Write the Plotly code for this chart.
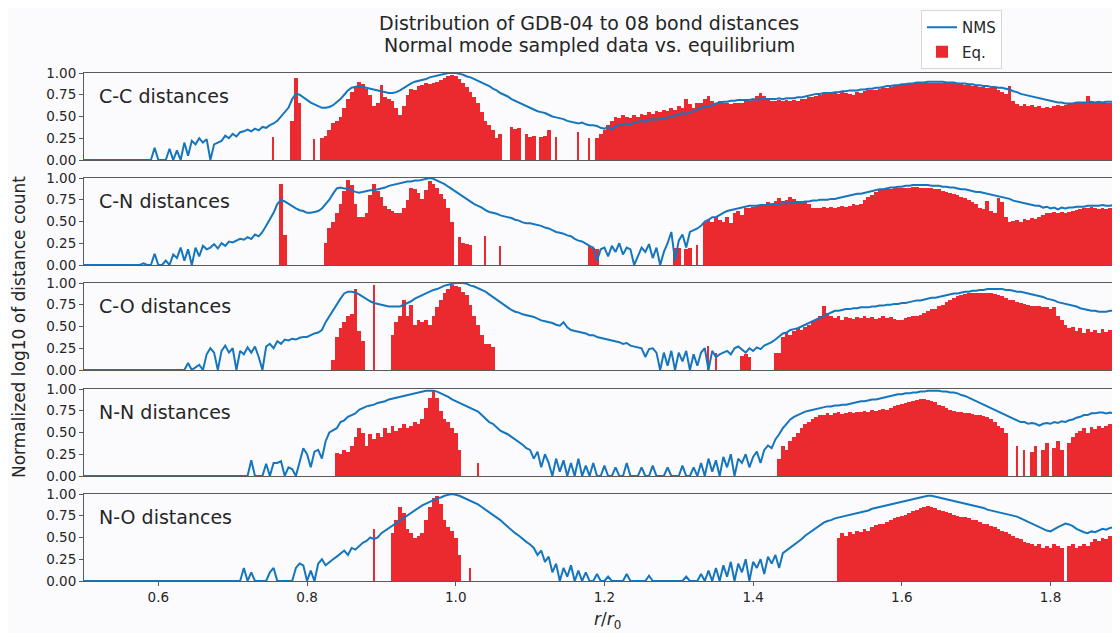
import numpy as np
import plotly.graph_objects as go

# bin centres of r/r0 (step 0.005)
r_bins = np.round(0.5 + 0.005 * np.arange(280), 3)

panel_names = ["C-C distances", "C-N distances", "C-O distances", "N-N distances", "N-O distances"]
x_ticks = [0.6, 0.8, 1.0, 1.2, 1.4, 1.6, 1.8]
y_ticks = [0.0, 0.25, 0.5, 0.75, 1.0]

# values in percent of the normalised log10 count, one row per 0.1 of r/r0 (0.5 .. 1.8)
cc_nms = [
    0,0,0,0,0,0,0,0,0,0,0,0,0,0,0,0,0,0,0,14,
    0,0,0,13,0,11,0,20,5,22,18,25,20,24,0,18,20,22,28,25,
    30,27,32,33,35,33,36,34,38,37,40,42,45,50,55,60,70,76,75,72,
    68,66,64,62,60,60,61,63,66,70,75,80,83,84,85,84,83,82,81,80,
    79,78,77,77,78,80,83,86,88,90,91,92,93,95,96,97,98,99,100,100,
    100,99,98,96,95,93,91,89,87,85,82,80,77,75,73,70,68,66,64,62,
    60,58,56,55,54,52,50,49,48,47,45,44,43,42,43,41,40,40,39,37,
    36,38,35,39,40,41,42,41,43,44,45,44,46,47,46,48,47,49,50,51,
    52,54,53,55,56,58,60,61,62,63,65,66,67,67,68,68,69,69,69,69,
    70,69,70,70,70,70,70,71,70,71,71,71,72,72,73,74,75,76,76,77,
    77,77,78,78,79,79,80,80,80,81,81,82,82,83,83,84,85,85,86,86,
    87,87,88,88,89,89,89,90,90,90,90,90,89,89,89,88,88,88,87,87,
    86,86,85,85,84,84,83,83,82,81,79,78,76,75,74,73,72,71,70,69,
    68,67,66,66,65,65,65,66,66,66,66,67,66,67,66,67,67,67,67,67,
]
cc_eq = [
    0,0,0,0,0,0,0,0,0,0,0,0,0,0,0,0,0,0,0,0,
    0,0,0,0,0,0,0,0,0,0,0,0,0,0,0,0,0,0,0,0,
    0,0,0,0,0,0,0,0,0,0,0,26,0,0,0,0,45,94,65,0,
    0,0,24,0,25,28,35,42,45,50,60,70,78,85,90,87,82,75,62,65,
    86,72,70,68,60,52,62,75,82,80,85,86,88,87,89,90,92,94,96,98,
    97,93,88,84,78,72,65,55,45,40,35,25,30,0,0,38,36,37,0,30,
    27,28,0,27,28,35,0,26,0,0,0,0,0,32,0,0,25,0,25,30,
    35,40,45,50,48,52,50,48,52,50,53,52,55,53,56,55,58,56,60,58,
    62,60,70,64,60,66,65,70,73,68,66,68,65,66,64,66,65,66,70,68,
    70,74,77,74,69,68,68,69,68,69,68,69,68,70,70,72,72,74,75,76,
    76,78,77,76,78,77,76,75,78,77,79,80,80,81,82,83,83,84,85,85,
    86,86,87,87,88,88,89,89,89,89,89,89,88,88,88,87,87,86,86,85,
    85,84,84,83,83,83,80,78,76,85,68,64,62,64,62,63,61,62,60,61,
    60,62,63,62,63,64,64,65,65,66,73,66,66,65,66,65,66,65,65,65,
]
cn_nms = [
    0,0,0,0,0,0,0,0,0,0,0,0,0,0,0,0,2,0,0,13,
    0,0,5,0,12,8,20,5,18,0,20,10,22,18,20,24,19,25,22,27,
    26,28,30,29,32,30,35,33,38,45,52,60,70,75,73,70,68,65,63,62,
    60,60,61,62,65,70,75,82,88,89,88,88,86,84,83,84,85,86,86,87,
    88,89,91,92,93,94,95,96,96,97,97,98,99,100,99,97,95,93,90,87,
    84,81,78,75,72,70,68,66,63,61,60,59,57,56,55,54,52,51,49,48,
    48,47,46,45,43,42,40,38,37,36,34,33,30,28,27,24,22,20,5,18,
    20,10,22,15,25,12,20,18,0,10,20,15,24,8,20,0,15,25,38,5,
    28,35,20,38,40,42,45,50,52,55,55,58,60,62,63,64,65,66,67,68,
    68,68,69,69,69,70,70,70,71,71,71,72,72,72,73,73,74,74,75,75,
    75,76,76,77,78,79,80,81,82,82,83,84,85,86,87,87,88,89,89,90,
    90,91,91,92,92,92,92,92,91,91,91,90,90,89,89,88,87,87,86,85,
    84,84,83,82,81,80,79,78,77,76,74,73,72,71,70,69,68,68,66,67,
    65,66,64,66,65,66,66,67,67,67,68,68,68,68,69,68,68,69,68,68,
]
cn_eq = [
    0,0,0,0,0,0,0,0,0,0,0,0,0,0,0,0,0,0,0,0,
    0,0,0,0,0,0,0,0,0,0,0,0,0,0,0,0,0,0,0,0,
    0,0,0,0,0,0,0,0,0,0,0,0,0,93,35,0,0,0,0,0,
    0,0,0,0,0,25,42,50,60,70,85,98,92,70,55,55,60,80,93,85,
    78,68,64,62,60,60,65,75,88,87,83,76,86,97,93,88,82,76,65,50,
    0,32,25,24,23,0,0,0,33,0,0,0,22,0,0,0,0,0,0,0,
    0,0,0,0,0,0,0,0,0,0,0,0,0,0,0,0,22,20,18,0,
    0,0,0,0,0,0,0,0,0,0,0,0,0,0,0,0,0,0,0,20,
    20,0,18,20,0,23,0,50,52,50,55,52,50,55,48,60,62,58,66,65,
    67,68,69,70,72,70,74,77,74,75,78,76,74,73,72,70,66,65,66,67,
    66,67,66,67,68,67,68,70,69,70,75,78,80,84,86,86,87,87,88,88,
    88,89,89,90,90,89,89,88,88,87,87,85,84,83,82,80,78,77,75,72,
    70,66,64,73,62,60,77,72,55,50,51,52,50,53,52,54,53,55,58,60,
    60,61,60,61,60,61,62,63,64,65,66,67,65,64,65,64,65,66,66,66,
]
co_nms = [
    0,0,0,0,0,0,0,0,0,0,0,0,0,0,0,0,0,0,0,0,
    0,0,0,0,0,0,0,0,8,0,3,6,0,18,25,20,0,22,28,20,
    25,0,22,18,26,20,27,15,0,27,30,25,33,30,35,34,36,35,37,38,
    38,40,42,43,46,55,62,68,75,82,88,90,90,89,87,84,82,79,77,76,
    75,74,73,73,73,73,75,77,79,82,84,86,88,90,92,93,95,97,98,99,
    100,100,100,99,97,96,94,92,90,87,84,80,77,74,71,69,67,66,64,63,
    62,61,59,57,56,55,54,52,51,55,49,46,45,44,43,42,40,40,38,37,
    36,35,34,33,32,30,31,28,27,26,25,15,24,25,20,0,20,5,22,0,
    20,10,22,0,18,5,20,25,0,22,15,18,20,22,18,25,27,24,20,25,
    22,26,24,28,30,32,35,38,42,43,46,47,48,50,52,54,56,58,60,62,
    64,66,68,68,69,70,70,71,71,72,72,72,73,73,74,74,75,75,76,76,
    77,77,78,79,80,80,81,82,83,83,84,85,86,87,88,88,89,90,90,91,
    91,92,92,93,93,93,93,93,92,92,91,90,90,89,88,87,86,85,84,82,
    81,80,78,77,76,75,74,73,71,70,69,68,68,67,67,67,68,68,68,68,
]
co_eq = [
    0,0,0,0,0,0,0,0,0,0,0,0,0,0,0,0,0,0,0,0,
    0,0,0,0,0,0,0,0,0,0,0,0,0,0,0,0,0,0,0,0,
    0,0,0,0,0,0,0,0,0,0,0,0,0,0,0,0,0,0,0,0,
    0,0,0,0,0,0,0,12,38,48,55,62,64,93,45,33,0,0,98,0,
    0,0,0,40,55,62,80,62,75,52,58,55,57,52,62,72,80,88,93,98,
    97,95,90,86,75,62,52,40,30,30,26,0,0,0,0,0,0,0,0,0,
    0,0,0,0,0,0,0,0,0,0,0,0,0,0,0,0,0,0,0,0,
    0,0,0,0,0,0,0,0,0,0,0,0,0,0,0,0,0,0,0,0,
    0,0,0,0,0,0,0,0,28,0,20,0,0,0,0,0,0,16,18,15,
    0,0,0,0,0,0,20,20,38,42,40,45,48,46,50,52,55,58,62,74,
    65,62,60,62,58,61,60,59,61,60,62,60,61,59,60,62,60,61,59,58,
    58,60,61,62,62,63,66,68,70,70,73,75,78,81,83,85,86,87,88,88,
    88,88,88,88,88,87,86,85,83,81,80,78,77,76,75,74,73,73,72,72,
    70,72,62,57,52,48,50,45,48,43,47,44,46,43,47,44,46,45,46,45,
]
nn_nms = [
    0,0,0,0,0,0,0,0,0,0,0,0,0,0,0,0,0,0,0,0,
    0,0,0,0,0,0,0,0,0,0,0,0,0,0,0,0,0,0,0,0,
    0,0,0,0,0,18,0,0,0,14,0,15,15,17,0,10,8,0,15,32,
    25,10,28,30,20,40,50,53,55,62,64,68,70,72,76,78,80,81,82,84,
    85,86,88,89,90,91,92,93,94,95,96,97,98,98,98,97,95,93,91,88,
    86,84,82,80,78,76,74,70,66,62,60,56,52,50,48,45,42,40,36,32,
    30,20,28,10,25,15,0,20,5,18,0,15,0,20,0,12,0,15,0,0,
    12,0,0,10,0,0,15,0,0,0,10,0,0,12,0,0,0,10,0,0,
    0,12,0,0,10,0,15,0,20,5,18,0,22,10,25,0,20,15,25,10,
    22,28,15,30,35,32,42,48,55,60,65,68,70,72,74,75,76,77,78,79,
    80,80,81,81,82,82,83,84,85,86,86,87,88,88,89,90,91,92,93,94,
    94,95,95,96,96,97,97,98,98,98,98,97,97,96,96,95,93,92,90,88,
    86,84,82,80,78,76,74,72,70,68,66,64,62,62,60,61,60,58,60,61,
    60,62,61,63,62,64,65,67,68,70,70,72,72,73,73,72,73,72,73,72,
]
nn_eq = [
    0,0,0,0,0,0,0,0,0,0,0,0,0,0,0,0,0,0,0,0,
    0,0,0,0,0,0,0,0,0,0,0,0,0,0,0,0,0,0,0,0,
    0,0,0,0,0,0,0,0,0,0,0,0,0,0,0,0,0,0,0,0,
    0,0,0,0,0,0,0,0,27,25,30,28,35,45,55,50,35,48,42,50,
    45,55,50,58,52,55,60,55,58,62,60,65,78,90,98,90,75,65,62,55,
    50,30,0,0,0,0,15,0,0,0,0,0,0,0,0,0,0,0,0,0,
    0,0,0,0,0,0,0,0,0,0,0,0,0,0,0,0,0,0,0,0,
    0,0,0,0,0,0,0,0,0,0,0,0,0,0,0,0,0,0,0,0,
    0,0,0,0,0,0,0,0,0,0,0,0,0,0,0,0,0,0,0,0,
    0,0,0,0,0,0,0,20,35,30,40,45,50,55,60,62,65,68,70,70,
    72,70,72,73,71,72,74,72,73,74,75,74,76,75,76,77,76,78,80,82,
    83,84,85,86,87,88,88,87,86,85,82,80,78,76,75,74,73,72,72,71,
    70,70,69,68,66,62,58,55,50,0,0,35,0,30,0,28,35,0,30,38,
    0,32,40,30,0,38,45,50,52,55,50,56,54,58,55,57,60,56,58,56,
]
no_nms = [
    0,0,0,0,0,0,0,0,0,0,0,0,0,0,0,0,0,0,0,0,
    0,0,0,0,0,0,0,0,0,0,0,0,0,0,0,0,0,0,0,0,
    0,0,0,15,0,10,0,0,0,0,10,15,0,0,0,0,0,15,20,18,
    0,12,0,20,25,18,22,25,28,32,35,30,38,36,40,44,46,50,48,50,
    55,58,60,63,66,70,73,76,79,82,85,87,89,91,93,95,96,98,99,100,
    99,98,96,94,92,90,88,85,82,80,77,73,70,66,62,58,55,52,48,45,
    42,38,30,35,22,28,10,20,0,15,5,18,0,12,0,10,0,0,8,0,
    0,5,0,0,0,0,8,0,0,0,0,0,6,0,0,0,0,0,0,0,
    0,0,5,0,0,0,8,0,12,0,15,0,18,5,22,0,20,10,25,0,
    22,15,25,8,28,20,30,15,32,35,38,42,45,48,52,55,58,62,65,67,
    69,70,72,73,74,75,76,77,78,79,80,81,83,84,85,86,87,88,89,90,
    91,92,93,94,95,96,97,98,98,97,96,95,94,93,92,91,90,89,88,87,
    86,85,84,82,81,80,79,78,77,76,75,74,72,70,68,66,64,62,60,58,
    57,60,62,64,66,65,63,60,58,56,55,57,56,58,60,59,61,62,61,62,
]
no_eq = [
    0,0,0,0,0,0,0,0,0,0,0,0,0,0,0,0,0,0,0,0,
    0,0,0,0,0,0,0,0,0,0,0,0,0,0,0,0,0,0,0,0,
    0,0,0,0,0,0,0,0,0,0,0,0,0,0,0,0,0,0,0,0,
    0,0,0,0,0,0,0,0,0,0,0,0,0,0,0,0,0,0,60,0,
    0,0,0,55,70,85,78,60,55,50,52,55,70,85,95,98,88,70,62,58,
    50,30,0,0,15,0,0,0,0,0,0,0,0,0,0,0,0,0,0,0,
    0,0,0,0,0,0,0,0,0,0,0,0,0,0,0,0,0,0,0,0,
    0,0,0,0,0,0,0,0,0,0,0,0,0,0,0,0,0,0,0,0,
    0,0,0,0,0,0,0,0,0,0,0,0,0,0,0,0,0,0,0,0,
    0,0,0,0,0,0,0,0,0,0,0,0,0,0,0,0,0,0,0,0,
    0,0,0,50,55,52,56,54,58,56,60,58,62,64,66,65,68,70,72,74,
    75,76,78,80,82,84,85,86,85,84,82,80,79,78,76,75,74,73,72,70,
    70,68,66,65,63,62,60,58,56,54,52,50,48,45,44,42,40,42,38,40,
    38,42,40,38,0,40,42,38,40,42,40,45,48,46,50,48,52,50,48,50,
]

nms_series = [cc_nms, cn_nms, co_nms, nn_nms, no_nms]
eq_series = [cc_eq, cn_eq, co_eq, nn_eq, no_eq]

BLUE = "#1576bd"
RED = "#ea2a2e"
FONT = "DejaVu Sans"
TXT = "#262626"
FRAME = "#5a5a5a"

# the page shows the figure 8 px in from the top-left corner of the window
OFF = 8
W, H = 1120 - OFF, 633 - OFF
ML, MR, MT = 84 - OFF, 0, 73 - OFF
MB = H - (581 - OFF)
plot_w = W - ML - MR
plot_h = H - MT - MB
panel_px = [(73, 160), (178, 265), (283, 370), (389, 476), (494, 581)]  # window pixels


def px_x(p):  # window x pixel -> paper x
    return (p - OFF - ML) / plot_w


def px_y(p):  # window y pixel -> paper y
    return (H - MB - (p - OFF)) / plot_h


def bar_widths(vals):
    w = []
    for k, v in enumerate(vals):
        left = vals[k - 1] if k > 0 else 0
        right = vals[k + 1] if k < len(vals) - 1 else 0
        w.append(0.0024 if (v > 0 and left == 0 and right == 0) else 0.005)
    return w


fig = go.Figure()
for i in range(5):
    ax = "" if i == 0 else str(i + 1)
    fig.add_trace(go.Bar(
        x=r_bins, y=np.array(eq_series[i]) / 100.0, width=bar_widths(eq_series[i]),
        marker=dict(color=RED, line=dict(width=0)),
        name="Eq.", legendgroup="eq", showlegend=(i == 0), legendrank=2,
        xaxis="x" + ax, yaxis="y" + ax,
    ))
    fig.add_trace(go.Scatter(
        x=r_bins, y=np.array(nms_series[i]) / 100.0, mode="lines",
        line=dict(color=BLUE, width=2),
        name="NMS", legendgroup="nms", showlegend=(i == 0), legendrank=1,
        xaxis="x" + ax, yaxis="y" + ax,
    ))

layout = dict(
    width=W, height=H,
    margin=dict(l=ML, r=MR, t=MT, b=MB, pad=0),
    paper_bgcolor="#fbfbfd", plot_bgcolor="#fbfbfd",
    font=dict(family=FONT, size=13, color=TXT),
    bargap=0, barmode="overlay",
    showlegend=True,
    legend=dict(x=px_x(921), y=px_y(10), xanchor="left", yanchor="top",
                bgcolor="#ffffff", bordercolor="#d8d8d8", borderwidth=1,
                font=dict(family=FONT, size=15, color=TXT), tracegroupgap=2,
                itemwidth=30),
)
for i in range(5):
    key = "" if i == 0 else str(i + 1)
    top, bot = panel_px[i]
    layout["xaxis" + key] = dict(
        domain=[0, 1], range=[0.5, 1.8935], anchor="y" + key,
        showline=True, mirror=True, linecolor=FRAME, linewidth=1,
        showgrid=False, zeroline=False,
        tickvals=x_ticks, ticks="outside" if i == 4 else "", ticklen=4, tickcolor=FRAME,
        showticklabels=(i == 4), tickformat=".1f",
        tickfont=dict(family=FONT, size=13.5, color=TXT),
    )
    if i > 0:
        layout["xaxis" + key]["matches"] = "x"
    layout["yaxis" + key] = dict(
        domain=[px_y(bot), px_y(top)], range=[0, 1], anchor="x" + key,
        showline=True, mirror=True, linecolor=FRAME, linewidth=1,
        showgrid=False, zeroline=False,
        tickvals=y_ticks, tickformat=".2f", ticks="outside", ticklen=4, tickcolor=FRAME,
        tickfont=dict(family=FONT, size=13.5, color=TXT),
    )
fig.update_layout(**layout)

for i in range(5):
    key = "" if i == 0 else str(i + 1)
    top, bot = panel_px[i]
    fig.add_annotation(text=panel_names[i], xref="paper", yref="paper",
                       x=px_x(97), y=px_y(top + 23), xanchor="left", yanchor="middle",
                       showarrow=False, font=dict(family=FONT, size=19, color=TXT))

fig.add_annotation(text="Distribution of GDB-04 to 08 bond distances", xref="paper", yref="paper",
                   x=px_x(589), y=px_y(23), xanchor="center", yanchor="middle",
                   showarrow=False, font=dict(family=FONT, size=19, color=TXT))
fig.add_annotation(text="Normal mode sampled data vs. equilibrium", xref="paper", yref="paper",
                   x=px_x(589), y=px_y(45), xanchor="center", yanchor="middle",
                   showarrow=False, font=dict(family=FONT, size=19, color=TXT))
fig.add_annotation(text="<i>r</i>/<i>r</i><sub>0</sub>", xref="paper", yref="paper",
                   x=px_x(607), y=px_y(620), xanchor="center", yanchor="middle",
                   showarrow=False, font=dict(family=FONT, size=17, color=TXT))
fig.add_annotation(text="Normalized log10 of distance count", xref="paper", yref="paper",
                   x=px_x(19), y=px_y(327), xanchor="center", yanchor="middle",
                   textangle=-90, showarrow=False, font=dict(family=FONT, size=17, color=TXT))

fig.write_html("out.html")
